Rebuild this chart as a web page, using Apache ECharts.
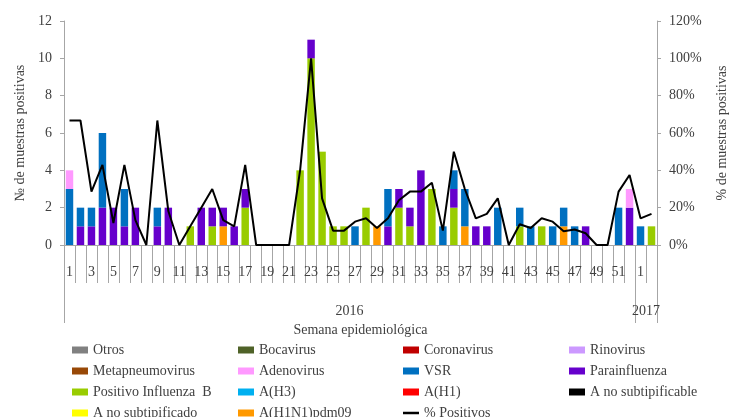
<!DOCTYPE html>
<html><head><meta charset="utf-8">
<script src="https://cdn.jsdelivr.net/npm/echarts@6/dist/echarts.min.js"></script>
<style>html,body{margin:0;padding:0;background:#fff}#c{width:730px;height:417px}</style>
</head><body><div id="c"></div>
<script>
var weeks = ['1','2','3','4','5','6','7','8','9','10','11','12','13','14','15','16','17','18','19','20','21','22','23','24','25','26','27','28','29','30','31','32','33','34','35','36','37','38','39','40','41','42','43','44','45','46','47','48','49','50','51','52','1','2'];
var years = ['2016','2017'];
var yearStartIdx = [0, 52];
var zeros = new Array(54).fill(0);
//                    1 2 3 4 5 6 7 8 9 10 1 2 3 4 5 6 7 8 9 20 1 2 3  4 5 6 7 8 9 30 1 2 3 4 5 6 7 8 9 40 1 2 3 4 5 6 7 8 9 50 1 2 1 2
var h1n1pdm09 =     [0,0,0,0,0,0,0,0,0,0, 0,0,0,0,1,0,0,0,0,0, 0,0,0, 0,0,0,0,0,1,0, 0,0,0,0,0,0,1,0,0,0, 0,0,0,0,0,1,0,0,0,0, 0,0,0,0];
var influenzaB =    [0,0,0,0,0,0,0,0,0,0, 0,1,0,1,0,0,2,0,0,0, 0,4,10,5,1,1,0,2,0,0, 2,1,0,3,0,2,0,0,0,0, 0,1,0,1,0,0,0,0,0,0, 0,0,0,1];
var parainfluenza = [0,1,1,2,2,1,2,0,1,2, 0,0,2,1,1,1,1,0,0,0, 0,0,1, 0,0,0,0,0,0,1, 1,1,4,0,0,1,0,1,1,0, 0,0,0,0,0,0,0,1,0,0, 0,2,0,0];
var vsr =           [3,1,1,4,0,2,0,0,1,0, 0,0,0,0,0,0,0,0,0,0, 0,0,0, 0,0,0,1,0,0,2, 0,0,0,0,1,1,2,0,0,2, 0,1,1,0,1,1,1,0,0,0, 2,0,1,0];
var adenovirus =    [1,0,0,0,0,0,0,0,0,0, 0,0,0,0,0,0,0,0,0,0, 0,0,0, 0,0,0,0,0,0,0, 0,0,0,0,0,0,0,0,0,0, 0,0,0,0,0,0,0,0,0,0, 0,1,0,0];
var pctPositivos =  [66.7,66.7,28.6,42.9,11.8,42.9,13.3,0,66.7,18.2, 0,10,20,30,13.3,10,42.9,0,0,0, 0,40,100,25,7.7,7.7,12.5,14.3,9.1,14.3, 24,28.6,28.6,33.3,7.7,50,30,14.3,16.7,25, 0,11.1,9.1,14.3,12.5,7.4,8.3,6.3,0,0, 28.6,37.5,14.3,16.7];
var leftTicks = [0,2,4,6,8,10,12];
var rightTicks = [0,20,40,60,80,100,120];

var FONT = 'Liberation Serif';
var TXT = '#404040';
var AX = '#a6a6a6';

var barDefs = [
  ['A(H1N1)pdm09', h1n1pdm09, '#FF9900'],
  ['A no subtipificado', zeros, '#FFFF00'],
  ['A no subtipificable', zeros, '#000000'],
  ['A(H1)', zeros, '#FF0000'],
  ['A(H3)', zeros, '#00B0F0'],
  ['Positivo Influenza  B', influenzaB, '#99CC00'],
  ['Parainfluenza', parainfluenza, '#6600CC'],
  ['VSR', vsr, '#0070C0'],
  ['Adenovirus', adenovirus, '#FF99FF'],
  ['Metapneumovirus', zeros, '#984807'],
  ['Rinovirus', zeros, '#CC99FF'],
  ['Coronavirus', zeros, '#C00000'],
  ['Bocavirus', zeros, '#4F6228'],
  ['Otros', zeros, '#808080']
];
var series = barDefs.map(function(d){
  return {name:d[0], type:'bar', stack:'s', data:d[1], barWidth:'68%',
    itemStyle:{color:d[2]}, emphasis:{disabled:true}};
});
series.push({name:'% Positivos', type:'line', yAxisIndex:1, data:pctPositivos,
  symbol:'none', lineStyle:{color:'#000', width:2}, itemStyle:{color:'#000'}, z:5});

var lineIcon = 'path://M0,0L0.01,0M0,2.2L16,2.2L16,4.8L0,4.8ZM0,7L0.01,7';
var legendCols = [
  ['Otros','Metapneumovirus','Positivo Influenza  B','A no subtipificado'],
  ['Bocavirus','Adenovirus','A(H3)','A(H1N1)pdm09'],
  ['Coronavirus','VSR','A(H1)',{name:'% Positivos', icon:lineIcon, itemStyle:{color:'#000', borderWidth:0}}],
  ['Rinovirus','Parainfluenza','A no subtipificable']
];
var legendLeft = [72, 238, 403, 569];
var legends = legendCols.map(function(col, i){
  return {orient:'vertical', left:legendLeft[i], top:343, height:110, padding:0,
    icon:'rect', itemWidth:16, itemHeight:7, itemGap:7, selectedMode:false, data:col,
    textStyle:{fontFamily:FONT, fontSize:14, color:TXT, lineHeight:14}};
});

var chart = echarts.init(document.getElementById('c'));
chart.setOption({
  animation:false,
  grid:{left:64, right:73, top:21, bottom:172, outerBoundsMode:'none', containLabel:false},
  legend:legends,
  xAxis:[{type:'category', data:weeks, boundaryGap:true,
    axisLine:{lineStyle:{color:AX}},
    axisTick:{show:true, interval:0, length:38, lineStyle:{color:AX}},
    axisLabel:{interval:1, margin:20, fontFamily:FONT, fontSize:14, color:TXT},
    name:'Semana epidemiológica', nameLocation:'middle', nameGap:78,
    nameTextStyle:{fontFamily:FONT, fontSize:14, color:TXT}}],
  yAxis:[{type:'value', min:0, max:12, interval:2, position:'left',
    axisLine:{show:true, lineStyle:{color:AX}},
    axisTick:{show:true, length:4, lineStyle:{color:AX}},
    splitLine:{show:false},
    axisLabel:{margin:12, fontFamily:FONT, fontSize:14, color:TXT},
    name:'№ de muestras positivas', nameLocation:'middle', nameGap:36, nameRotate:90,
    nameTextStyle:{fontFamily:FONT, fontSize:14, color:TXT}},
   {type:'value', min:0, max:120, interval:20, position:'right',
    axisLine:{show:true, lineStyle:{color:AX}},
    axisTick:{show:true, length:4, lineStyle:{color:AX}},
    splitLine:{show:false},
    axisLabel:{margin:12, formatter:'{value}%', fontFamily:FONT, fontSize:14, color:TXT},
    name:'% de muestras positivas', nameLocation:'middle', nameGap:58, nameRotate:90,
    nameTextStyle:{fontFamily:FONT, fontSize:14, color:TXT}}],
  series:series
});

// year group separators and labels, positioned from the category axis
var c0 = chart.convertToPixel({xAxisIndex:0}, 0);
var c1 = chart.convertToPixel({xAxisIndex:0}, 1);
var bw = c1 - c0;
var y0 = chart.convertToPixel({yAxisIndex:0}, 0);
var bounds = yearStartIdx.map(function(i){ return c0 + (i - 0.5)*bw; });
bounds.push(c0 + (weeks.length - 0.5)*bw);
var g = [];
bounds.forEach(function(x){
  g.push({type:'line', shape:{x1:Math.round(x)+0.5, y1:y0, x2:Math.round(x)+0.5, y2:y0+78},
    style:{stroke:AX, lineWidth:1}, silent:true});
});
years.forEach(function(yr, i){
  g.push({type:'text', x:(bounds[i]+bounds[i+1])/2, y:y0+66,
    style:{text:yr, fontFamily:FONT, fontSize:14, fill:TXT, align:'center', verticalAlign:'middle'}, silent:true});
});
chart.setOption({graphic:g});
</script></body></html>
